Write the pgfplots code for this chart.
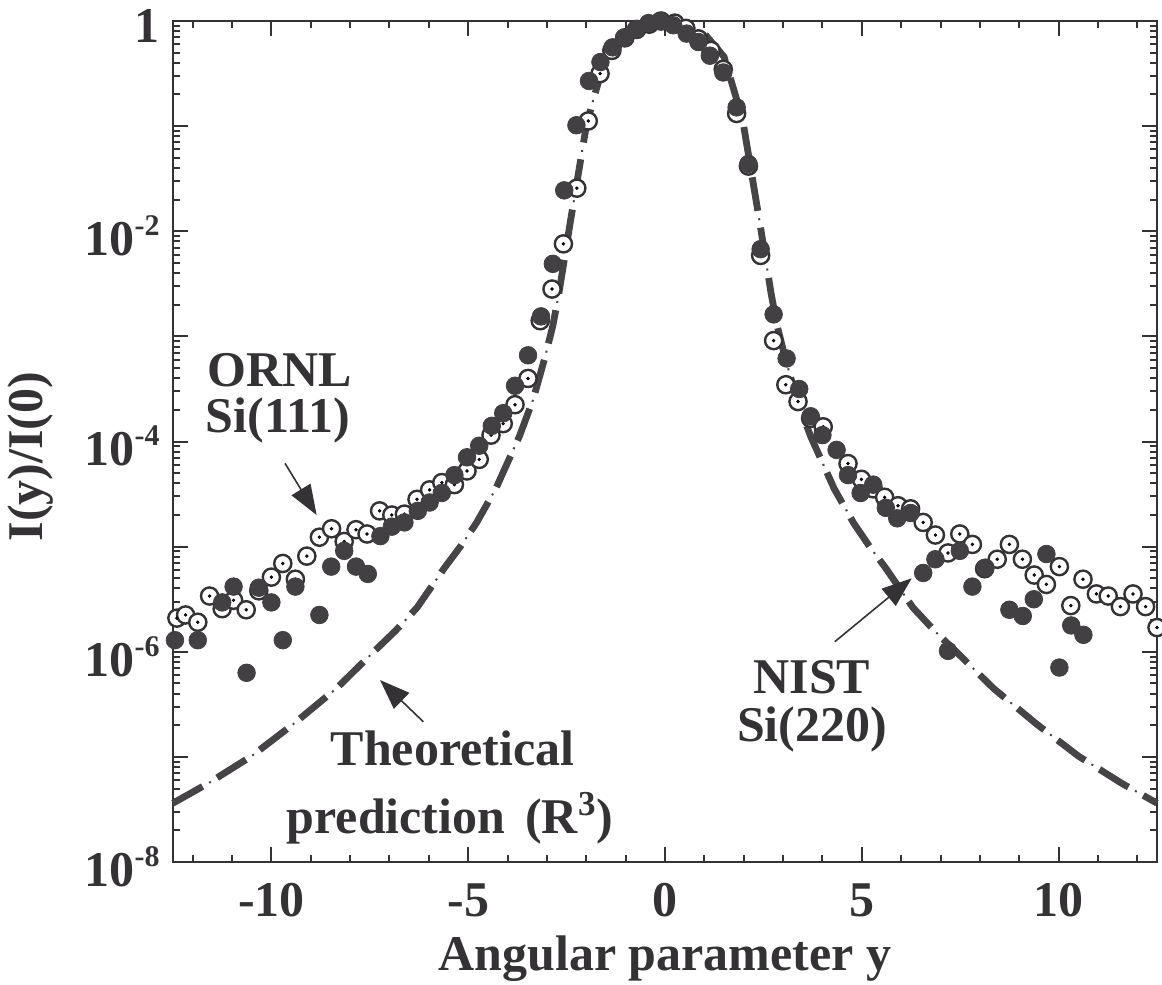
\documentclass[border=0pt]{standalone}
\usepackage{pgfplots}
\usepackage{pgfplotstable}
\pgfplotsset{compat=1.18}
\usepackage{fontspec}
\setmainfont{Liberation Serif}
\usetikzlibrary{arrows.meta}

\definecolor{ink}{RGB}{52,50,52}
\definecolor{dotfill}{RGB}{66,64,66}
\definecolor{dashc}{RGB}{70,68,70}

\newcommand{\lfont}{\fontsize{25}{30}\selectfont\bfseries}
\newcommand{\decade}[1]{10\raisebox{0.4em}{\fontsize{15}{15}\selectfont -#1}}

% NIST Si(220): angular parameter y, normalised intensity
\pgfplotstableread{
x y
-12.45 1.29e-6
-11.87 1.29e-6
-11.25 2.95e-6
-10.96 4.17e-6
-10.63 6.31e-7
-10.32 4.07e-6
-10.00 2.95e-6
-9.71 1.29e-6
-9.39 4.17e-6
-8.78 2.24e-6
-8.48 6.46e-6
-8.15 9.12e-6
-7.85 6.46e-6
-7.55 5.50e-6
-7.23 1.26e-5
-6.94 1.55e-5
-6.62 1.70e-5
-6.28 2.19e-5
-5.98 2.63e-5
-5.67 3.24e-5
-5.35 4.79e-5
-5.03 7.08e-5
-4.72 9.12e-5
-4.40 1.41e-4
-4.11 1.86e-4
-3.81 3.39e-4
-3.48 6.61e-4
-3.15 1.55e-3
-2.85 4.90e-3
-2.56 2.45e-2
-2.25 1.02e-1
-1.93 0.269
-1.64 0.407
-1.33 0.562
-1.04 0.692
-0.74 0.832
-0.42 0.955
-0.13 1.000
0.21 0.912
0.55 0.759
0.85 0.631
1.14 0.468
1.48 0.324
1.82 0.151
2.12 4.37e-2
2.43 6.76e-3
2.76 1.62e-3
3.09 6.17e-4
3.41 3.16e-4
3.70 1.74e-4
4.00 1.15e-4
4.36 8.32e-5
4.65 4.79e-5
4.97 3.24e-5
5.29 3.89e-5
5.61 2.34e-5
5.90 1.86e-5
6.24 2.09e-5
6.56 5.62e-6
6.87 7.59e-6
7.19 1.02e-6
7.49 9.12e-6
7.81 4.17e-6
8.14 6.31e-6
8.75 2.51e-6
9.09 2.19e-6
9.37 3.16e-6
9.69 8.51e-6
10.02 7.08e-7
10.32 1.78e-6
10.63 1.45e-6
}\nist

% ORNL Si(111)
\pgfplotstableread{
x y
-12.40 2.09e-6
-12.18 2.24e-6
-11.87 1.91e-6
-11.57 3.39e-6
-11.25 2.57e-6
-10.96 3.09e-6
-10.64 2.51e-6
-10.32 3.80e-6
-10.00 5.13e-6
-9.71 6.92e-6
-9.39 4.90e-6
-9.10 8.13e-6
-8.78 1.23e-5
-8.47 1.48e-5
-8.15 1.12e-5
-7.85 1.45e-5
-7.57 1.32e-5
-7.25 2.19e-5
-6.94 2.00e-5
-6.62 2.04e-5
-6.30 2.82e-5
-5.98 3.47e-5
-5.67 4.07e-5
-5.35 3.89e-5
-5.03 5.25e-5
-4.72 6.76e-5
-4.42 1.15e-4
-4.11 1.48e-4
-3.81 2.24e-4
-3.48 3.98e-4
-3.17 1.41e-3
-2.87 2.82e-3
-2.58 7.59e-3
-2.24 2.57e-2
-1.95 0.112
-1.65 0.316
-1.35 0.525
-1.02 0.692
-0.72 0.832
-0.40 0.933
-0.10 1.000
0.25 0.955
0.53 0.851
0.85 0.676
1.17 0.525
1.48 0.347
1.82 0.132
2.12 4.17e-2
2.43 5.89e-3
2.76 9.12e-4
3.07 3.47e-4
3.38 2.40e-4
3.70 1.66e-4
4.02 1.38e-4
4.65 6.17e-5
4.99 4.37e-5
5.29 3.55e-5
5.58 2.95e-5
5.92 2.45e-5
6.24 2.29e-5
6.56 1.70e-5
6.87 1.29e-5
7.19 8.71e-6
7.49 1.32e-5
7.81 1.05e-5
8.12 6.17e-6
8.44 7.59e-6
8.75 1.05e-5
9.08 7.59e-6
9.38 5.37e-6
9.69 4.37e-6
10.02 6.46e-6
10.31 2.75e-6
10.62 4.90e-6
10.96 3.55e-6
11.26 3.39e-6
11.57 2.69e-6
11.89 3.55e-6
12.21 2.69e-6
12.50 1.70e-6
}\ornl

% Theoretical R^3 profile
\pgfplotstableread{
x y
-12.50 3.63e-8
-11.60 5.62e-8
-10.50 1.02e-7
-9.45 2.04e-7
-8.35 4.47e-7
-7.40 1.00e-6
-6.85 1.58e-6
-6.30 2.63e-6
-5.60 6.31e-6
-5.20 1.00e-5
-4.80 1.66e-5
-4.30 3.55e-5
-4.00 6.31e-5
-3.70 1.12e-4
-3.35 2.51e-4
-3.05 6.31e-4
-2.85 1.26e-3
-2.70 2.51e-3
-2.55 5.62e-3
-2.40 1.26e-2
-2.20 3.55e-2
-2.00 0.100
-1.80 0.191
-1.50 0.457
-1.00 0.759
-0.50 0.933
0.00 1.000
0.50 0.933
1.00 0.759
1.50 0.457
1.80 0.191
2.00 0.100
2.20 3.55e-2
2.40 1.26e-2
2.55 5.62e-3
2.70 2.51e-3
2.85 1.26e-3
3.05 6.31e-4
3.35 2.51e-4
3.70 1.12e-4
4.00 6.31e-5
4.30 3.55e-5
4.80 1.66e-5
5.20 1.00e-5
5.60 6.31e-6
6.30 2.63e-6
6.85 1.58e-6
7.40 1.00e-6
8.35 4.47e-7
9.45 2.04e-7
10.50 1.02e-7
11.60 5.62e-8
12.50 3.63e-8
}\theory

\begin{document}
\begin{tikzpicture}
\begin{axis}[
  scale only axis,
  width=492pt, height=420.5pt,
  ymode=log,
  xmin=-12.5, xmax=12.5,
  ymin=1e-8, ymax=1,
  clip=false,
  axis line style={line width=1.3pt, ink},
  every tick/.style={line width=1pt, ink},
  major tick length=7.5pt,
  minor tick length=3.5pt,
  xtick={-10,-5,0,5,10},
  xticklabels={-10,-5,0,5,10},
  minor xtick={-12,-11,...,12},
  ytick={1e-8,1e-7,1e-6,1e-5,1e-4,1e-3,1e-2,1e-1,1},
  yticklabels={\decade{8},{},\decade{6},{},\decade{4},{},\decade{2},{},1\hspace{8.75pt}},
  minor ytick={2e-8,3e-8,4e-8,5e-8,6e-8,7e-8,8e-8,9e-8,
               2e-7,3e-7,4e-7,5e-7,6e-7,7e-7,8e-7,9e-7,
               2e-6,3e-6,4e-6,5e-6,6e-6,7e-6,8e-6,9e-6,
               2e-5,3e-5,4e-5,5e-5,6e-5,7e-5,8e-5,9e-5,
               2e-4,3e-4,4e-4,5e-4,6e-4,7e-4,8e-4,9e-4,
               2e-3,3e-3,4e-3,5e-3,6e-3,7e-3,8e-3,9e-3,
               2e-2,3e-2,4e-2,5e-2,6e-2,7e-2,8e-2,9e-2,
               0.2,0.3,0.4,0.5,0.6,0.7,0.8,0.9},
  xticklabel style={font=\lfont, text=ink, inner sep=0pt, anchor=north, yshift=-10.5pt},
  yticklabel style={font=\lfont, text=ink, inner sep=0pt, anchor=east, xshift=-6.5pt, yshift=-2.4pt},
  xlabel={Angular parameter y},
  ylabel={I(y)/I(0)},
  xlabel style={font=\lfont, text=ink, at={(rel axis cs:0.5,-0.1284)}, anchor=base, inner sep=0pt},
  ylabel style={font=\lfont, text=ink, at={(rel axis cs:-0.1321,0.482)}, anchor=base, inner sep=0pt},
]
% theoretical curve: long dashes with a fine dot in each gap
\addplot[draw=dashc, line width=3.4pt, dash pattern=on 17pt off 8.5pt, line cap=butt] table {\theory};
\addplot[draw=dashc, line width=1pt, dash pattern=on 1pt off 24.5pt, dash phase=4.75pt, line cap=butt] table {\theory};
% ORNL Si(111): open circles with a centre dot
\addplot[only marks, mark=*, mark size=4.3pt, mark options={fill=white, draw=ink, line width=1.2pt}] table {\ornl};
\addplot[only marks, mark=*, mark size=0.65pt, mark options={fill=ink, draw=none}] table {\ornl};
% NIST Si(220): filled circles
\addplot[only marks, mark=*, mark size=4.4pt, mark options={fill=dotfill, draw=dotfill}] table {\nist};

% annotations
\node[anchor=base, text=ink, font=\lfont, inner sep=0pt] at (rel axis cs:0.1087,0.5652) {ORNL};
\node[anchor=base, text=ink, font=\lfont, inner sep=0pt] at (rel axis cs:0.1067,0.5105) {Si(111)};
\draw[ink, line width=0.8pt, -{Triangle[length=15pt,width=11pt]}] (rel axis cs:0.1138,0.4741) -- (rel axis cs:0.1460,0.4126);

\node[anchor=base, text=ink, font=\lfont, inner sep=0pt] at (rel axis cs:0.2840,0.1153) {Theoretical};
\node[anchor=base, text=ink, font=\lfont, inner sep=0pt] at (rel axis cs:0.2815,0.0341) {prediction\hspace{0.4em}(R\textsuperscript{3})};
\draw[ink, line width=0.8pt, -{Triangle[length=15pt,width=11pt]}] (rel axis cs:0.2544,0.1668) -- (rel axis cs:0.2104,0.2164);

\node[anchor=base, text=ink, font=\lfont, inner sep=0pt] at (rel axis cs:0.6494,0.2006) {NIST};
\node[anchor=base, text=ink, font=\lfont, inner sep=0pt] at (rel axis cs:0.6494,0.1430) {Si(220)};
\draw[ink, line width=0.8pt, -{Triangle[length=15pt,width=11pt]}] (rel axis cs:0.6726,0.2620) -- (rel axis cs:0.7508,0.3374);

\coordinate (bbsw) at (rel axis cs:-0.1758,-0.1451);
\coordinate (bbne) at (rel axis cs:1.0051,1.0250);
\end{axis}
\pgfresetboundingbox
\path[use as bounding box] (bbsw) rectangle (bbne);
\end{tikzpicture}
\end{document}
